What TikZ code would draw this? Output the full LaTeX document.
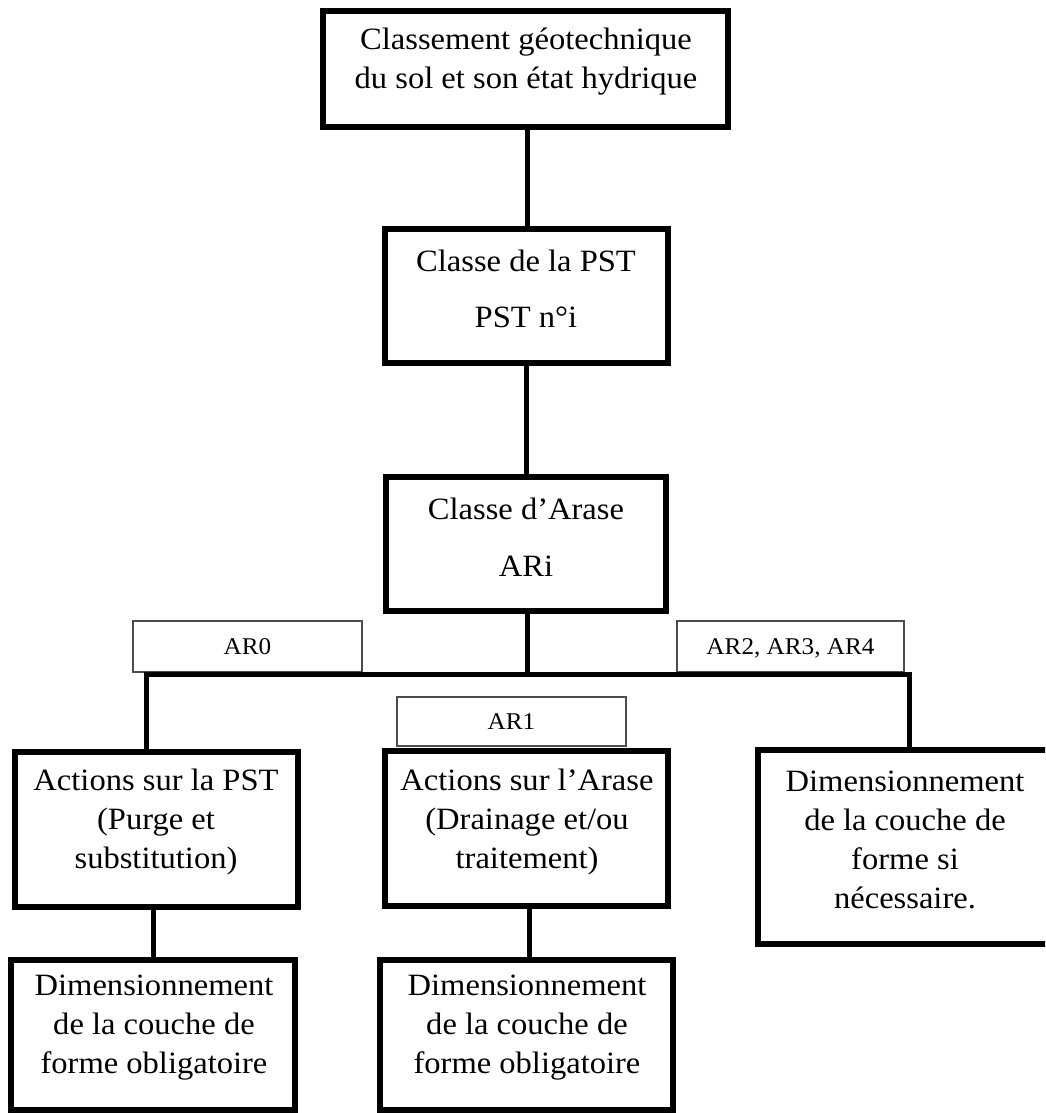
\documentclass[tikz,border=0pt]{standalone}
\usepackage{fontspec}
\setmainfont{Liberation Serif}[FakeStretch=1.05]
\begin{document}
\begin{tikzpicture}[x=1pt,y=-1pt,
  bigbox/.style={draw=black,line width=6pt,fill=white,inner sep=0pt,rectangle},
  lblbox/.style={draw=black!70,line width=1.2pt,fill=white,inner sep=0pt,rectangle,
     text height=16pt,text depth=1pt,
     font=\fontsize{24}{28}\selectfont},
  txt/.style={align=center,inner sep=0pt,font=\fontsize{31}{39}\selectfont},
  conn/.style={draw=black,line width=5pt}]
\useasboundingbox (0,0) rectangle (1045,1113);
\clip (0,0) rectangle (1045,1113);
\fill[white] (0,0) rectangle (1045,1113);

% label boxes
\node[lblbox,minimum width=229pt,minimum height=51pt] (l0) at (247.5,646.5) {AR0};
\node[lblbox,minimum width=227pt,minimum height=51pt] (l2) at (790.5,646.5) {AR2, AR3, AR4};
\node[lblbox,minimum width=229pt,minimum height=49pt] (l1) at (511.5,721.5) {AR1};

% main boxes
\node[bigbox,minimum width=405pt,minimum height=116pt] (b1) at (525.5,69) {};
\node[bigbox,minimum width=283pt,minimum height=134pt] (b2) at (526.5,296) {};
\node[bigbox,minimum width=280pt,minimum height=134pt] (b3) at (526,544) {};
\node[bigbox,minimum width=283pt,minimum height=155pt] (a1) at (156.5,829.5) {};
\node[bigbox,minimum width=283pt,minimum height=155pt] (a2) at (526.5,828.5) {};
\node[bigbox,minimum width=302pt,minimum height=194pt] (r) at (909,847) {};
\node[bigbox,minimum width=284pt,minimum height=150pt] (d1) at (153,1035) {};
\node[bigbox,minimum width=293pt,minimum height=150pt] (d2) at (526.5,1035) {};

% connectors
\coordinate (busL) at (146,674);
\coordinate (busR) at (907,674);
\coordinate (busM) at (527,674);
\draw[conn] ([xshift=1.5pt]b1.south) -- ([xshift=1.5pt]b1.south |- b2.north);
\draw[conn] (b2.south) -- (b2.south |- b3.north);
\draw[conn] (busM |- b3.south) -- (busM);
\draw[conn,line join=miter] (busL |- a1.north) -- (busL) -- ([xshift=2.5pt]busR) -- ([xshift=2.5pt]busR |- r.north);
\draw[conn] (d1.north |- a1.south) -- (d1.north);
\draw[conn] ([xshift=2.5pt]a2.south) -- ([xshift=2.5pt]a2.south |- d2.north);

% texts
\node[txt] (t1) at (526,62) {Classement géotechnique\\du sol et son état hydrique};
\node[txt,font=\fontsize{31}{56}\selectfont] (t2) at (526,289) {Classe de la PST\\PST n°i};
\node[txt,font=\fontsize{31}{57}\selectfont] (t3) at (526,537) {Classe d’Arase\\ARi};
\node[txt] (ta1) at (156,822) {Actions sur la PST\\(Purge et\\substitution)};
\node[txt] (ta2) at (527,822) {Actions sur l’Arase\\(Drainage et/ou\\traitement)};
\node[txt] (tr) at (905,840) {Dimensionnement\\de la couche de\\forme si\\nécessaire.};
\node[txt] (td1) at (154,1028) {Dimensionnement\\de la couche de\\forme obligatoire};
\node[txt] (td2) at (527,1028) {Dimensionnement\\de la couche de\\forme obligatoire};
\end{tikzpicture}
\end{document}
